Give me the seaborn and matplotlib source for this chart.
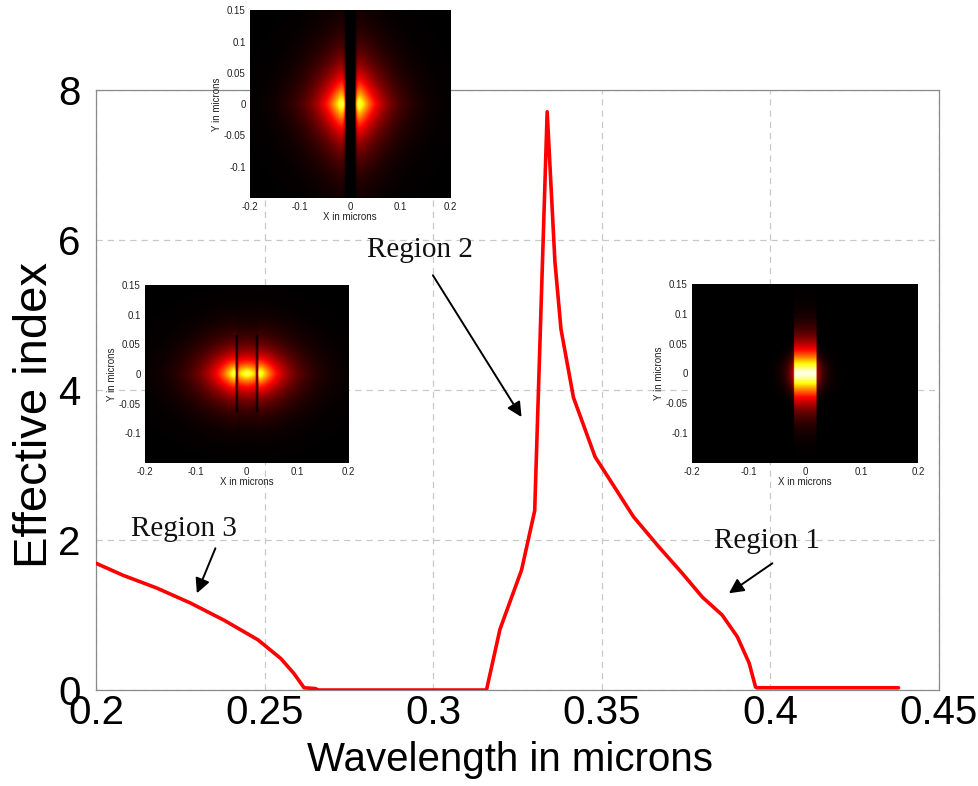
import numpy as np
import pandas as pd
import matplotlib
matplotlib.use("Agg")
import matplotlib.pyplot as plt
from matplotlib.colors import LinearSegmentedColormap
import seaborn as sns

# ---------------- data ----------------
wavelength = [0.200, 0.208, 0.218, 0.228, 0.238, 0.248, 0.2548, 0.2587, 0.2617,
              0.2650, 0.2660, 0.3158, 0.3198, 0.3262, 0.3301, 0.3338, 0.3361,
              0.3379, 0.3416, 0.3480, 0.3530, 0.3594, 0.3669, 0.3738, 0.3798,
              0.3857, 0.3902, 0.3937, 0.3956, 0.3960, 0.4380]
eff_index = [1.69, 1.53, 1.36, 1.16, 0.93, 0.67, 0.42, 0.22, 0.03,
             0.02, 0.00, 0.00, 0.81, 1.60, 2.39, 7.71, 5.71,
             4.81, 3.90, 3.11, 2.76, 2.31, 1.91, 1.56, 1.24,
             1.00, 0.71, 0.36, 0.04, 0.03, 0.03]

x_ticks = [0.2, 0.25, 0.3, 0.35, 0.4, 0.45]
x_tick_labels = ["0.2", "0.25", "0.3", "0.35", "0.4", "0.45"]
y_ticks = [0, 2, 4, 6, 8]
y_tick_labels = ["0", "2", "4", "6", "8"]

region_names = ["Region 1", "Region 2", "Region 3"]
region_text_xy = [(0.399, 1.99), (0.296, 5.87), (0.226, 2.15)]
region_arrow_tail = [(0.4006, 1.69), (0.2999, 5.53), (0.2354, 1.89)]
region_arrow_head = [(0.3877, 1.29), (0.3262, 3.64), (0.2299, 1.29)]

inset_x_ticks = [-0.2, -0.1, 0, 0.1, 0.2]
inset_x_labels = ["-0.2", "-0.1", "0", "0.1", "0.2"]
inset_y_ticks = [0.15, 0.1, 0.05, 0, -0.05, -0.1]
inset_y_labels = ["0.15", "0.1", "0.05", "0", "-0.05", "-0.1"]

# mode-profile shape parameters (estimated from the inset pictures)
slot_half_width = 0.009        # region 2: dark slot half width
lobe_decay_x2, lobe_decay_y2 = 0.045, 0.050
strip_edge3 = 0.020            # region 3: dark lines position
lobe_decay_x3, lobe_decay_y3 = 0.042, 0.028
strip_half_width1 = 0.020      # region 1: bright strip half width
strip_decay_y1 = 0.042

# ---------------- field images ----------------
gx = np.linspace(-0.2, 0.2, 401)
gy = np.linspace(-0.15, 0.15, 301)
X, Y = np.meshgrid(gx, gy)
AX, AY = np.abs(X), np.abs(Y)

def field_region2():
    d = np.clip(AX - slot_half_width, 0, None)
    rise = 1 - np.exp(-d / 0.003)
    p = 1.3
    r = ((d / lobe_decay_x2) ** p + (AY / lobe_decay_y2) ** p) ** (1 / p)
    f = 1.1 * np.exp(-1.15 * r) * rise
    f = np.where(AX < slot_half_width, 0.0, f)
    return np.clip(f, 0, 1)

def field_region3():
    d = np.clip(AX - strip_edge3, 0, None)
    p = 1.6
    r = ((d / lobe_decay_x3) ** p + (AY / lobe_decay_y3) ** p) ** (1 / p)
    side = 0.97 * np.exp(-r)
    rc = ((AX / 0.06) ** p + (AY / lobe_decay_y3) ** p) ** (1 / p)
    centre = 0.88 * np.exp(-rc)
    f = np.where(AX > strip_edge3, side, centre)
    line = 1 - np.exp(-((AX - strip_edge3) / 0.0022) ** 2) * (AY < 0.065)
    return f * line

def field_region1():
    inside = 0.98 * np.exp(-(AY / strip_decay_y1) ** 1.4)
    outside = 0.30 * np.exp(-np.clip(AX - strip_half_width1, 0, None) / 0.011 - (Y / 0.03) ** 2)
    return np.where(AX <= strip_half_width1, inside, outside)

hot_black = LinearSegmentedColormap.from_list(
    "hot_black", [(0.0, "black"), (0.38, "#ff0000"), (0.75, "#ffff00"), (1.0, "white")])

# ---------------- figure ----------------
sns.set_theme(style="white")
plt.rcParams["font.family"] = ["Liberation Sans", "DejaVu Sans"]
plt.rcParams["text.color"] = "black"
plt.rcParams["axes.labelcolor"] = "black"

fig = plt.figure(figsize=(9.79, 7.86), dpi=100)
ax = fig.add_axes([0.0981, 0.1221, 0.861, 0.7634])

df = pd.DataFrame({"wavelength": wavelength, "neff": eff_index})
sns.lineplot(data=df, x="wavelength", y="neff", ax=ax, color="#ff0000",
             linewidth=2.6, sort=False, estimator=None, zorder=3)

ax.set_xlim(0.2, 0.45)
ax.set_ylim(0, 8)
ax.set_xticks(x_ticks)
ax.set_xticklabels(x_tick_labels)
ax.set_yticks(y_ticks)
ax.set_yticklabels(y_tick_labels)
ax.tick_params(axis="both", labelsize=29, direction="in", length=4,
               color="#888888", labelcolor="black")
ax.tick_params(axis="x", pad=3)
ax.tick_params(axis="y", pad=11)
ax.grid(True, color="#c8c8c8", linestyle=(0, (5, 4)), linewidth=0.9)
for s in ax.spines.values():
    s.set_color("#8a8a8a")
    s.set_linewidth(0.9)

ax.set_xlabel("Wavelength in microns", fontsize=29, color="black")
ax.set_ylabel("Effective index", fontsize=34, color="black")
ax.xaxis.set_label_coords(0.491, -0.117)
ax.yaxis.set_label_coords(-0.072, 0.458)
ax.xaxis.label.set_verticalalignment("center")
ax.yaxis.label.set_verticalalignment("center")

for name, txy, tail, head in zip(region_names, region_text_xy, region_arrow_tail, region_arrow_head):
    ax.text(txy[0], txy[1], name, fontsize=21, family=["Liberation Serif", "DejaVu Serif"],
            ha="center", va="center", color="#111111", zorder=5)
    ax.annotate("", xy=head, xytext=tail,
                arrowprops=dict(arrowstyle="-|>", color="black", lw=1.4,
                                mutation_scale=22, shrinkA=0, shrinkB=0), zorder=5)

# ---------------- insets ----------------
inset_rects = [
    [0.2554, 0.748, 0.2043, 0.239],   # region 2 mode (top)
    [0.1481, 0.411, 0.2074, 0.2265],  # region 3 mode (left)
    [0.7068, 0.411, 0.2308, 0.2277],  # region 1 mode (right)
]
fields = [field_region2(), field_region3(), field_region1()]

for rect, fld in zip(inset_rects, fields):
    iax = fig.add_axes(rect)
    iax.imshow(fld, cmap=hot_black, vmin=0, vmax=1, origin="lower",
               extent=[-0.2, 0.2, -0.15, 0.15], aspect="auto", interpolation="bilinear")
    iax.set_xticks(inset_x_ticks)
    iax.set_xticklabels(inset_x_labels)
    iax.set_yticks(inset_y_ticks)
    iax.set_yticklabels(inset_y_labels)
    iax.set_xlim(-0.2, 0.2)
    iax.set_ylim(-0.15, 0.15)
    iax.tick_params(labelsize=7, length=0, pad=3, labelcolor="#222222")
    iax.set_xlabel("X in microns", fontsize=7, labelpad=0, color="#222222")
    iax.set_ylabel("Y in microns", fontsize=7, labelpad=1, color="#222222")
    for s in iax.spines.values():
        s.set_visible(False)

fig.savefig("out.png", dpi=100)
